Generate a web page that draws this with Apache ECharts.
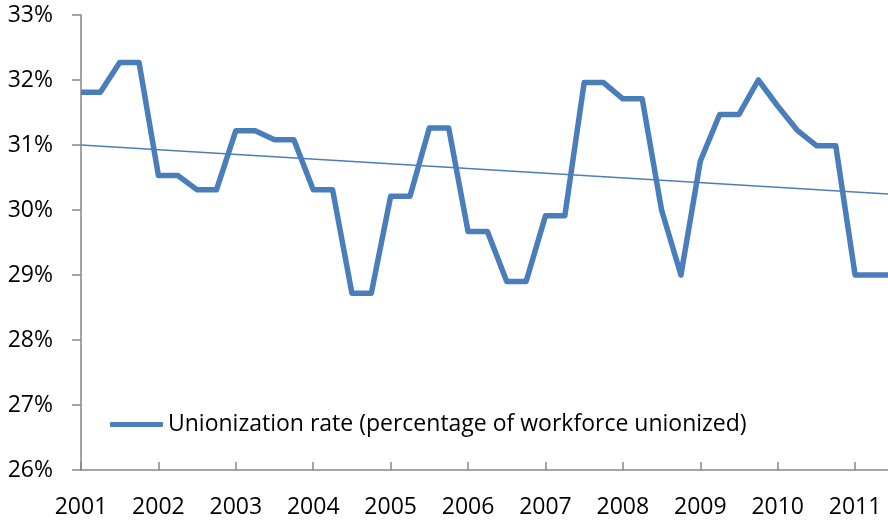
<!DOCTYPE html>
<html>
<head>
<meta charset="utf-8">
<script src="https://cdn.jsdelivr.net/npm/echarts@6/dist/echarts.min.js"></script>
<style>
html, body { margin: 0; padding: 0; background: #fff; }
#chart { width: 888px; height: 521px; }
</style>
</head>
<body>
<div id="chart"></div>
<script>
// quarterly unionization rate, 2001 Q1 onwards (percent)
var seriesName = 'Unionization rate (percentage of workforce unionized)';
var firstYear = 2001;
var rates = [
	31.81, 31.81, 32.27, 32.27, 30.53, 30.53, 30.31, 30.31,
	31.22, 31.22, 31.08, 31.08, 30.31, 30.31, 28.72, 28.72,
	30.21, 30.21, 31.26, 31.26, 29.67, 29.67, 28.90, 28.90,
	29.91, 29.91, 31.96, 31.96, 31.71, 31.71, 30.00, 29.00,
	30.75, 31.47, 31.47, 32.00, 31.60, 31.23, 30.99, 30.99,
	29.00, 29.00, 29.00
];
// linear trend end points [quarter index, percent]
var trendPoints = [[0, 31.0], [42, 30.24]];
var yTicks = [26, 33];

var chart = echarts.init(document.getElementById('chart'));
var font = 'Open Sans';
var blue = '#4a7ebb';

var lineData = [];
for (var i = 0; i < rates.length; i++) {
	lineData.push([i, rates[i]]);
}

var option = {
	animation: false,
	grid: { left: 81, right: 0, top: 15, bottom: 51 },
	legend: {
		data: [seriesName],
		left: 105,
		top: 408,
		icon: 'roundRect',
		itemWidth: 53,
		itemHeight: 5,
		textStyle: { fontFamily: font, fontSize: 23, color: '#000' }
	},
	xAxis: {
		type: 'value',
		min: 0,
		max: 41.7,
		interval: 4,
		axisLine: { lineStyle: { color: '#868686', width: 1.5 } },
		axisTick: { inside: true, length: 8, lineStyle: { color: '#868686', width: 1.5 } },
		splitLine: { show: false },
		axisLabel: {
			fontFamily: font, fontSize: 23, color: '#000', margin: 26,
			showMaxLabel: false,
			formatter: function(v) {
				return v % 4 === 0 ? String(firstYear + v / 4) : '';
			}
		}
	},
	yAxis: {
		type: 'value',
		min: yTicks[0],
		max: yTicks[1],
		interval: 1,
		axisLine: { show: true, lineStyle: { color: '#868686', width: 1.5 } },
		axisTick: { show: true, length: 9, lineStyle: { color: '#868686', width: 1.5 } },
		splitLine: { show: false },
		axisLabel: { fontFamily: font, fontSize: 23, color: '#000', margin: 28, formatter: '{value}%' }
	},
	series: [
		{
			name: seriesName,
			type: 'line',
			data: lineData,
			symbol: 'none',
			lineStyle: { color: blue, width: 5.5, join: 'round' },
			itemStyle: { color: blue }
		},
		{
			name: 'trend',
			type: 'line',
			data: trendPoints,
			symbol: 'none',
			lineStyle: { color: blue, width: 1.5 },
			itemStyle: { color: blue }
		}
	]
};
chart.setOption(option);
</script>
</body>
</html>
